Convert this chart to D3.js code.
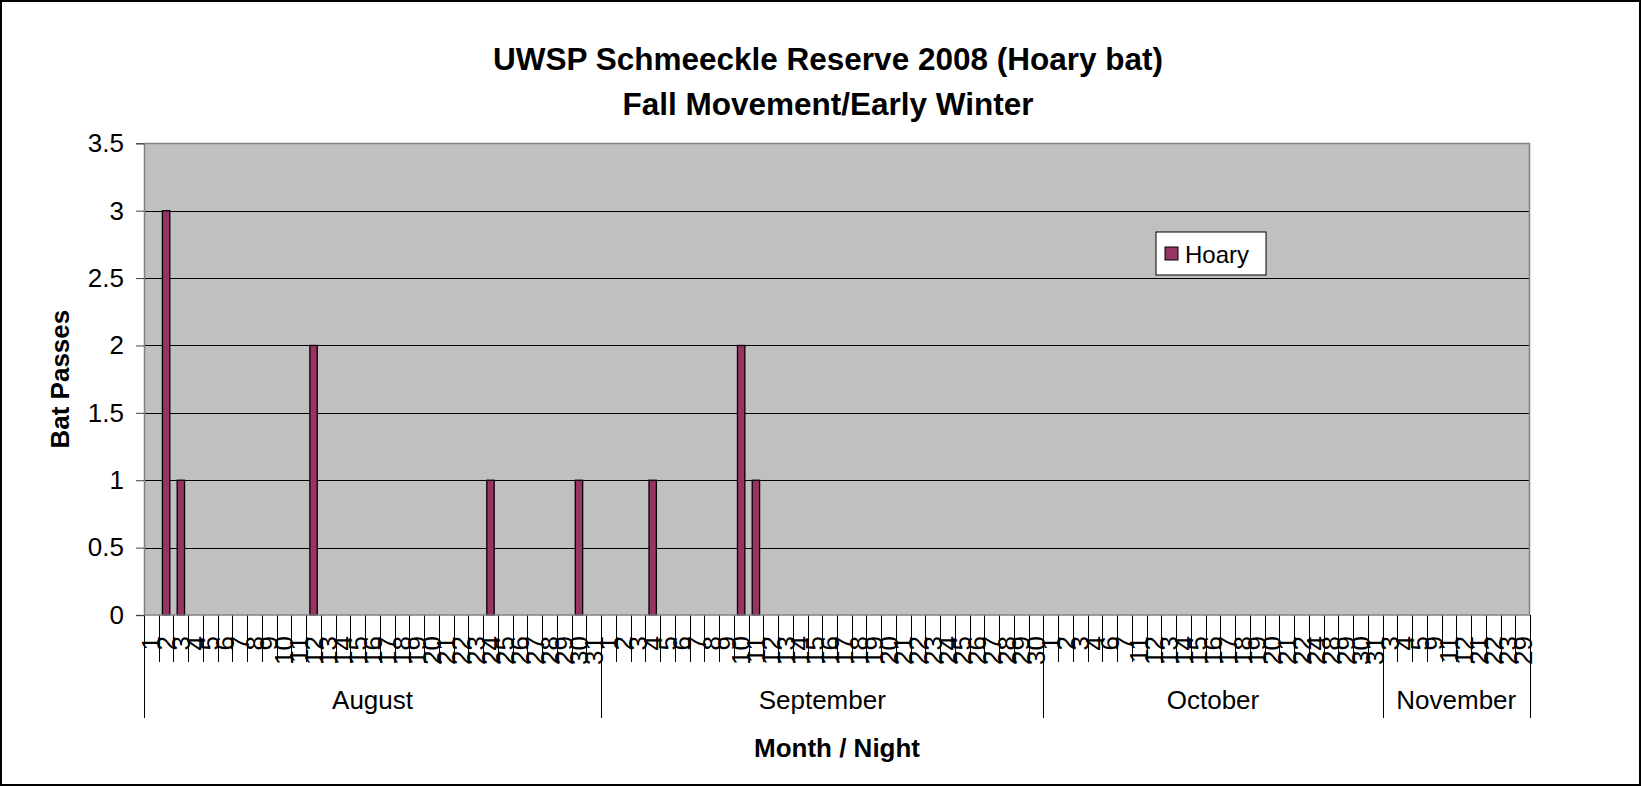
<!DOCTYPE html>
<html>
<head>
<meta charset="utf-8">
<script src="https://cdn.jsdelivr.net/npm/d3@7"></script>
<style>
  html, body { margin: 0; padding: 0; background: #fff; }
  svg { display: block; font-family: "Liberation Sans", Arial, sans-serif; }
</style>
</head>
<body>
<svg id="chart" width="1641" height="786"></svg>
<script>
// ---------- data ----------
const titleLines = ["UWSP Schmeeckle Reserve 2008 (Hoary bat)", "Fall Movement/Early Winter"];
const yAxisTitle = "Bat Passes";
const xAxisTitle = "Month / Night";
const seriesName = "Hoary";
const months = ["August", "September", "October", "November"];

const augustNights = [1,2,3,4,5,6,7,8,9,10,11,12,13,14,15,16,17,18,19,20,21,22,23,24,25,26,27,28,29,30,31];
const septemberNights = [1,2,3,4,5,6,7,8,9,10,11,12,13,14,15,16,17,18,19,20,21,22,23,24,25,26,27,28,29,30];
const octoberNights = [1,2,3,4,6,7,11,12,13,14,15,16,17,18,19,20,21,22,24,28,29,30,31];
const novemberNights = [3,4,5,9,11,12,21,22,23,29];

const augustPasses = [0,3,1,0,0,0,0,0,0,0,0,2,0,0,0,0,0,0,0,0,0,0,0,1,0,0,0,0,0,1,0];
const septemberPasses = [0,0,0,1,0,0,0,0,0,2,1,0,0,0,0,0,0,0,0,0,0,0,0,0,0,0,0,0,0,0];
const octoberPasses = [0,0,0,0,0,0,0,0,0,0,0,0,0,0,0,0,0,0,0,0,0,0,0];
const novemberPasses = [0,0,0,0,0,0,0,0,0,0];

const yTicks = [0, 0.5, 1, 1.5, 2, 2.5, 3, 3.5];

// ---------- build table ----------
const nightsByMonth = [augustNights, septemberNights, octoberNights, novemberNights];
const passesByMonth = [augustPasses, septemberPasses, octoberPasses, novemberPasses];
const rows = [];
months.forEach((m, mi) => {
  nightsByMonth[mi].forEach((n, i) => {
    rows.push({ month: m, night: n, key: m + "-" + i, value: passesByMonth[mi][i] });
  });
});

// ---------- layout ----------
const svg = d3.select("#chart");
const W = 1641, H = 786;
const plot = { left: 144, right: 1530, top: 143.3, bottom: 615 };
const axisFont = 26, titleFont = 31.5;
const barColor = "#993366";

svg.append("rect").attr("x", 1).attr("y", 1).attr("width", W - 2).attr("height", H - 2)
  .attr("fill", "#fff").attr("stroke", "#000").attr("stroke-width", 2);

const x = d3.scaleBand().domain(rows.map(d => d.key))
  .range([plot.left, plot.right]).paddingInner(0.5).paddingOuter(0.25);
const y = d3.scaleLinear().domain([0, 3.5]).range([plot.bottom, plot.top]);

// plot background
svg.append("rect").attr("x", plot.left).attr("y", plot.top)
  .attr("width", plot.right - plot.left).attr("height", plot.bottom - plot.top)
  .attr("fill", "#C0C0C0");

// gridlines
svg.append("g").selectAll("line").data(yTicks.filter(t => t > 0 && t < 3.5)).join("line")
  .attr("x1", plot.left).attr("x2", plot.right)
  .attr("y1", d => Math.round(y(d)) + 0.5).attr("y2", d => Math.round(y(d)) + 0.5)
  .attr("stroke", "#000").attr("stroke-width", 1);

// plot border (top/right)
svg.append("path")
  .attr("d", `M${plot.left},${Math.round(plot.top)+0.5}H${plot.right - 0.5}V${plot.bottom}`)
  .attr("fill", "none").attr("stroke", "#808080").attr("stroke-width", 1.5);

// bars
svg.append("g").selectAll("rect").data(rows.filter(d => d.value > 0)).join("rect")
  .attr("x", d => x(d.key)).attr("width", x.bandwidth())
  .attr("y", d => y(d.value)).attr("height", d => y(0) - y(d.value))
  .attr("fill", barColor).attr("stroke", "#000").attr("stroke-width", 1.3);

// y axis
const yAxis = d3.axisLeft(y).tickValues(yTicks).tickSize(8).tickPadding(12)
  .tickFormat(d => String(d));
const gy = svg.append("g").attr("transform", `translate(${plot.left},0)`).call(yAxis);
gy.select(".domain").attr("stroke", "#808080").attr("stroke-width", 1.5);
gy.selectAll(".tick line").attr("stroke", "#404040");
gy.selectAll(".tick text").attr("font-size", axisFont).attr("fill", "#000")
  .attr("font-family", "Liberation Sans, Arial, sans-serif");

// x axis: category labels
const xAxis = d3.axisBottom(x).tickSize(0).tickFormat((k, i) => rows[i].night);
const gx = svg.append("g").attr("transform", `translate(0,${plot.bottom})`).call(xAxis);
gx.select(".domain").remove();
gx.selectAll(".tick text")
  .attr("font-size", axisFont).attr("fill", "#000")
  .attr("font-family", "Liberation Sans, Arial, sans-serif")
  .attr("text-anchor", "end")
  .attr("transform", "translate(0,21) rotate(-90)")
  .attr("x", 0).attr("y", 0).attr("dy", "0.35em");

// category boundary ticks
const boundaries = rows.map(d => x(d.key) - x.bandwidth() * 0.5).concat([plot.right]);
svg.append("g").selectAll("line").data(boundaries).join("line")
  .attr("x1", d => Math.round(d) + 0.5).attr("x2", d => Math.round(d) + 0.5)
  .attr("y1", plot.bottom).attr("y2", 662)
  .attr("stroke", "#000").attr("stroke-width", 1);

// month group separators
const monthStarts = [];
let idx = 0;
nightsByMonth.forEach((arr, mi) => {
  monthStarts.push({ month: months[mi], start: idx, end: idx + arr.length });
  idx += arr.length;
});
const monthX = i => (i < rows.length ? x(rows[i].key) - x.bandwidth() * 0.5 : plot.right);
const sepXs = monthStarts.map(m => monthX(m.start)).concat([plot.right]);
svg.append("g").selectAll("line").data(sepXs).join("line")
  .attr("x1", d => Math.round(d) + 0.5).attr("x2", d => Math.round(d) + 0.5)
  .attr("y1", plot.bottom).attr("y2", 718)
  .attr("stroke", "#000").attr("stroke-width", 1);

svg.append("g").selectAll("text").data(monthStarts).join("text")
  .attr("x", m => (monthX(m.start) + monthX(m.end)) / 2)
  .attr("y", 709)
  .attr("text-anchor", "middle").attr("font-size", axisFont).attr("fill", "#000")
  .text(m => m.month);

// bottom axis line
svg.append("line").attr("x1", plot.left).attr("x2", plot.right)
  .attr("y1", plot.bottom).attr("y2", plot.bottom)
  .attr("stroke", "#808080").attr("stroke-width", 1.5);

// titles
svg.append("g").selectAll("text").data(titleLines).join("text")
  .attr("x", 828).attr("y", (d, i) => 70 + i * 45)
  .attr("text-anchor", "middle").attr("font-weight", "bold")
  .attr("font-size", titleFont).attr("fill", "#000").text(d => d);

svg.append("text")
  .attr("transform", `translate(69,${(plot.top + plot.bottom) / 2}) rotate(-90)`)
  .attr("text-anchor", "middle").attr("font-weight", "bold")
  .attr("font-size", axisFont).attr("fill", "#000").text(yAxisTitle);

svg.append("text")
  .attr("x", (plot.left + plot.right) / 2).attr("y", 757)
  .attr("text-anchor", "middle").attr("font-weight", "bold")
  .attr("font-size", axisFont).attr("fill", "#000").text(xAxisTitle);

// legend
const lg = svg.append("g").attr("transform", "translate(1156,232)");
lg.append("rect").attr("width", 110).attr("height", 43)
  .attr("fill", "#fff").attr("stroke", "#000").attr("stroke-width", 1);
lg.append("rect").attr("x", 9).attr("y", 15).attr("width", 13).attr("height", 13)
  .attr("fill", barColor).attr("stroke", "#000").attr("stroke-width", 1);
lg.append("text").attr("x", 29).attr("y", 31)
  .attr("font-size", axisFont - 2).attr("fill", "#000").text(seriesName);
</script>
</body>
</html>
